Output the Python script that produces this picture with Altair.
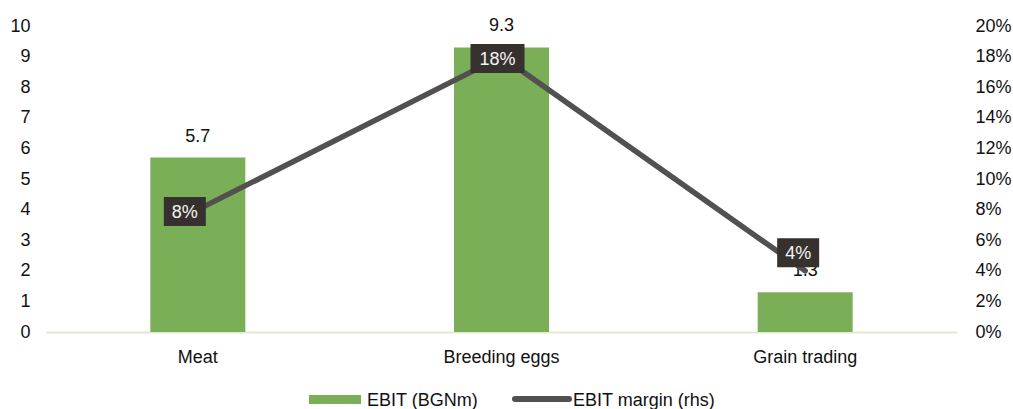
import altair as alt
import pandas as pd

# Segment EBIT (left axis, BGN m) and EBIT margin (right axis)
categories = ["Meat", "Breeding eggs", "Grain trading"]
ebit = [5.7, 9.3, 1.3]
margin = [0.08, 0.18, 0.04]
margin_labels = ["8%", "18%", "4%"]
left_ticks = [0, 1, 2, 3, 4, 5, 6, 7, 8, 9, 10]
right_ticks = [0, 0.02, 0.04, 0.06, 0.08, 0.10, 0.12, 0.14, 0.16, 0.18, 0.20]
legend_labels = ["EBIT (BGNm)", "EBIT margin (rhs)"]

df = pd.DataFrame({
    "segment": categories,
    "ebit": ebit,
    "margin": margin,
    "margin_label": margin_labels,
})

FONT = "Liberation Sans"
FS = 18
GREEN = "#7BAF57"
LINE = "#535051"
BOX = "#36312F"
BASE = "#E3E8D5"
INK = "#111111"

W, H = 911, 306

# pixel nudges for the margin call-outs (dx, dy)
LABEL_NUDGE = {"Meat": (-13, 2), "Breeding eggs": (-4, 2), "Grain trading": (-7, -18)}

x_enc = alt.X(
    "segment:N",
    sort=categories,
    scale=alt.Scale(paddingInner=0, paddingOuter=0),
    axis=alt.Axis(
        title=None, labelAngle=0, ticks=False, labelPadding=16,
        domainColor=BASE, domainWidth=2, labelFont=FONT, labelFontSize=FS,
        labelColor=INK, grid=False,
    ),
)

left_axis = alt.Axis(
    title=None, values=left_ticks, ticks=False, domain=False, grid=False,
    labelPadding=16, labelFont=FONT, labelFontSize=FS, labelColor=INK,
)
right_axis = alt.Axis(
    title=None, orient="right", values=right_ticks, format=".0%", ticks=False,
    domain=False, grid=False, labelPadding=18, labelFont=FONT, labelFontSize=FS,
    labelColor=INK,
)

y_left = alt.Y("ebit:Q", scale=alt.Scale(domain=[0, 10], nice=False), axis=left_axis)
y_right = alt.Y("margin:Q", scale=alt.Scale(domain=[0, 0.20], nice=False), axis=right_axis)

base = alt.Chart(df)

bars = base.mark_bar(color=GREEN, size=95).encode(x=x_enc, y=y_left)
bar_text = base.mark_text(
    font=FONT, fontSize=FS, color=INK, baseline="alphabetic", dy=-16
).encode(x=x_enc, y=y_left, text=alt.Text("ebit:Q", format=".1f"))

left_group = alt.layer(bars, bar_text)

line = base.mark_line(color=LINE, strokeWidth=5.5, strokeCap="round", strokeJoin="round").encode(
    x=x_enc, y=y_right
)

callouts = []
for seg, lab in zip(categories, margin_labels):
    dx, dy = LABEL_NUDGE[seg]
    half_w = (18 + 12 * len(lab)) / 100.0
    path = f"M{-half_w},-0.29L{half_w},-0.29L{half_w},0.29L{-half_w},0.29Z"
    sub = base.transform_filter(alt.datum.segment == seg)
    box = sub.mark_point(
        shape=path, size=10000, filled=True, fill=BOX, opacity=1, strokeWidth=0,
        xOffset=dx, yOffset=dy,
    ).encode(x=x_enc, y=y_right)
    txt = sub.mark_text(
        font=FONT, fontSize=FS, color="#F4F4F4", baseline="middle", align="center",
        xOffset=dx, yOffset=dy + 1,
    ).encode(x=x_enc, y=y_right, text="margin_label:N")
    callouts += [box, txt]

right_group = alt.layer(line, *callouts)

# legend drawn below the category axis
leg_df = pd.DataFrame({"k": [0]})
leg = alt.Chart(leg_df)
leg_rect = leg.mark_rect(color=GREEN).encode(
    x=alt.value(263), x2=alt.value(315), y=alt.value(369), y2=alt.value(378)
)
leg_text1 = leg.mark_text(
    font=FONT, fontSize=FS, color=INK, align="left", baseline="middle"
).encode(x=alt.value(321), y=alt.value(375), text=alt.value(legend_labels[0]))
leg_line = leg.mark_rule(color=LINE, strokeWidth=6, strokeCap="round").encode(
    x=alt.value(469), x2=alt.value(523), y=alt.value(373)
)
leg_text2 = leg.mark_text(
    font=FONT, fontSize=FS, color=INK, align="left", baseline="middle"
).encode(x=alt.value(527), y=alt.value(375), text=alt.value(legend_labels[1]))

chart = (
    alt.layer(left_group, right_group, leg_rect, leg_text1, leg_line, leg_text2)
    .resolve_scale(y="independent")
    .properties(
        width=W,
        height=H,
        padding={"left": 46, "top": 26, "right": 56, "bottom": 77},
        autosize=alt.AutoSizeParams(type="none"),
        background="white",
    )
    .configure_view(stroke=None)
)

chart.save("out.html", embed_options={"renderer": "svg", "actions": False})
